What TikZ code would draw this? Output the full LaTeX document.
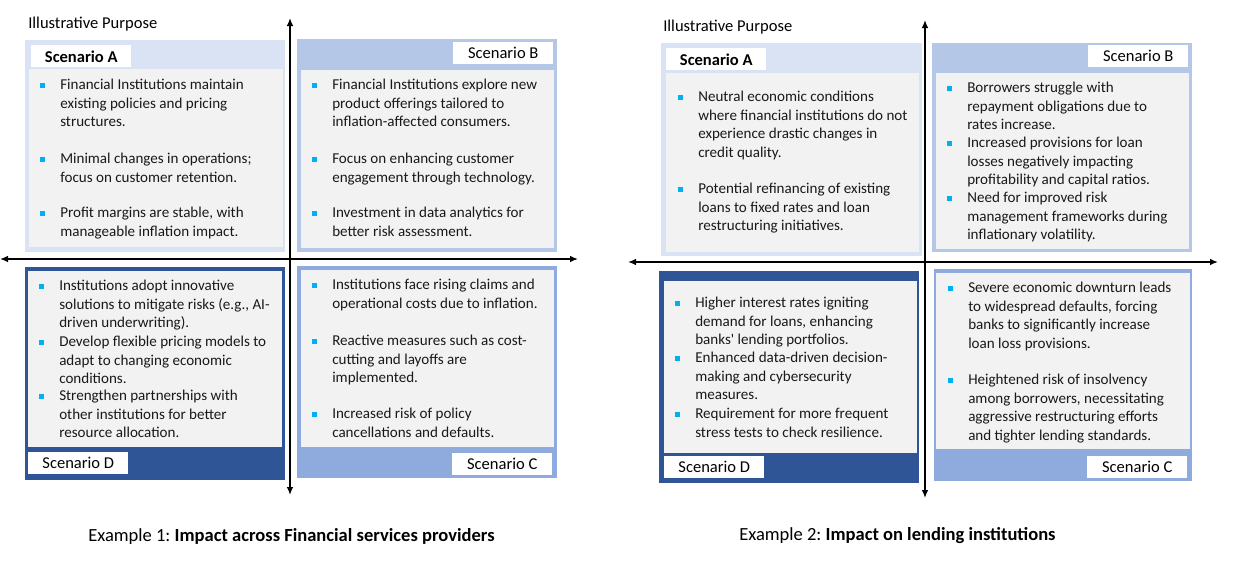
\documentclass[tikz,border=0pt]{standalone}
\usepackage{fontspec}
\setmainfont{Carlito}
\usepackage{tikz}
\usetikzlibrary{arrows.meta}
\frenchspacing

\definecolor{paleblue}{HTML}{DAE3F3}
\definecolor{midblue}{HTML}{B4C7E7}
\definecolor{softblue}{HTML}{8FAADC}
\definecolor{deepblue}{HTML}{2F5597}
\definecolor{panelgrey}{HTML}{F2F2F2}
\definecolor{bulletcyan}{HTML}{00B0F0}

% one bullet point: name, text x, y of first line, lines
\newcommand{\bitem}[4]{%
  \fill[bulletcyan] (#2-20,#3-2.5) rectangle ++(5,5);
  \node[itemtext] (#1) at (#2,#3-8.5) {\strut #4};
}

\begin{document}
\begin{tikzpicture}[x=0.75pt,y=-0.75pt,
    itemtext/.style={anchor=north west,inner sep=0pt,align=left,
      font=\fontsize{11.3}{13.9}\selectfont,text=black!90},
    scenlabel/.style={anchor=north west,fill=white,inner sep=0pt,
      minimum width=75pt,minimum height=16.5pt,font=\fontsize{12.4}{14}\selectfont},
    axis/.style={line width=1.1pt,{Latex[length=6pt,width=5pt]}-{Latex[length=6pt,width=5pt]}},
    note/.style={anchor=west,inner sep=0pt,font=\fontsize{12.4}{14}\selectfont},
    caption/.style={anchor=west,inner sep=0pt,font=\fontsize{13.9}{16}\selectfont}]
  \fill[white] (0,0) rectangle (1243,575);
  \useasboundingbox (0,0) rectangle (1243,575);

  % LEFT: financial services providers
  \begin{scope}
    \node[note] (purpose1) at (28,24) {Illustrative Purpose};
    % scenario A
    \fill[paleblue] (25,40) rectangle (285,252);
    \fill[panelgrey] (29,69) rectangle (283,247);
    \node[scenlabel,font=\fontsize{12.4}{14}\selectfont\bfseries] (scA1) at (31,45) {Scenario A};
    \bitem{a11}{60}{85}{Financial Institutions maintain\\existing policies and pricing\\structures.}
    \bitem{a12}{60}{159}{Minimal changes in operations;\\focus on customer retention.}
    \bitem{a13}{60}{213}{Profit margins are stable, with\\manageable inflation impact.}
    % scenario B
    \fill[midblue] (297,39) rectangle (557,252);
    \fill[panelgrey] (301,70) rectangle (554,248);
    \node[scenlabel] (scB1) at (453,42) {Scenario B};
    \bitem{b11}{332}{85}{Financial Institutions explore new\\product offerings tailored to\\inflation-affected consumers.}
    \bitem{b12}{332}{159}{Focus on enhancing customer\\engagement through technology.}
    \bitem{b13}{332}{213}{Investment in data analytics for\\better risk assessment.}
    % scenario D
    \fill[deepblue] (25,267) rectangle (285,480);
    \fill[panelgrey] (28,271) rectangle (282,447);
    \node[scenlabel] (scD1) at (28,452) {Scenario D};
    \bitem{d11}{59}{286}{Institutions adopt innovative\\solutions to mitigate risks (e.g., AI-\\driven underwriting).}
    \bitem{d12}{59}{342}{Develop flexible pricing models to\\adapt to changing economic\\conditions.}
    \bitem{d13}{59}{396}{Strengthen partnerships with\\other institutions for better\\resource allocation.}
    % scenario C
    \fill[softblue] (297,266) rectangle (557,478);
    \fill[panelgrey] (301,270) rectangle (554,447);
    \node[scenlabel] (scC1) at (452,453) {Scenario C};
    \bitem{c11}{332}{285}{Institutions face rising claims and\\operational costs due to inflation.}
    \bitem{c12}{332}{341}{Reactive measures such as cost-\\cutting and layoffs are\\implemented.}
    \bitem{c13}{332}{414}{Increased risk of policy\\cancellations and defaults.}
    % axes
    \coordinate (top1) at (290,18);
    \coordinate (bot1) at (290,495);
    \coordinate (lft1) at (0,259);
    \coordinate (rgt1) at (578,259);
    \draw[axis] (bot1) -- (top1);
    \draw[axis] (lft1) -- (rgt1);
    \node[caption] (cap1) at (88,536) {Example 1: \textbf{Impact across Financial services providers}};
  \end{scope}

  % RIGHT: lending institutions
  \begin{scope}
    \node[note] (purpose2) at (663,27) {Illustrative Purpose};
    % scenario A
    \fill[paleblue] (661,43) rectangle (922,256);
    \fill[panelgrey] (666,73) rectangle (919,252);
    \node[scenlabel,font=\fontsize{12.4}{14}\selectfont\bfseries] (scA2) at (666,48) {Scenario A};
    \bitem{a21}{698}{97}{Neutral economic conditions\\where financial institutions do not\\experience drastic changes in\\credit quality.}
    \bitem{a22}{698}{189}{Potential refinancing of existing\\loans to fixed rates and loan\\restructuring initiatives.}
    % scenario B
    \fill[midblue] (932,43) rectangle (1192,252);
    \fill[panelgrey] (936,73) rectangle (1189,249);
    \node[scenlabel] (scB2) at (1088,45) {Scenario B};
    \bitem{b21}{967}{88}{Borrowers struggle with\\repayment obligations due to\\rates increase.}
    \bitem{b22}{967}{143}{Increased provisions for loan\\losses negatively impacting\\profitability and capital ratios.}
    \bitem{b23}{967}{198}{Need for improved risk\\management frameworks during\\inflationary volatility.}
    % scenario D
    \fill[deepblue] (659,271) rectangle (919,483);
    \fill[panelgrey] (664,281) rectangle (917,453);
    \node[scenlabel] (scD2) at (664,456) {Scenario D};
    \bitem{d21}{695}{303}{Higher interest rates igniting\\demand for loans, enhancing\\banks\textquotesingle\ lending portfolios.}
    \bitem{d22}{695}{358}{Enhanced data-driven decision-\\making and cybersecurity\\measures.}
    \bitem{d23}{695}{414}{Requirement for more frequent\\stress tests to check resilience.}
    % scenario C
    \fill[softblue] (934,269) rectangle (1192,481);
    \fill[panelgrey] (936,273) rectangle (1190,449);
    \node[scenlabel] (scC2) at (1087,456) {Scenario C};
    \bitem{c21}{968}{288}{Severe economic downturn leads\\to widespread defaults, forcing\\banks to significantly increase\\loan loss provisions.}
    \bitem{c22}{968}{380}{Heightened risk of insolvency\\among borrowers, necessitating\\aggressive restructuring efforts\\and tighter lending standards.}
    % axes
    \coordinate (top2) at (925,20);
    \coordinate (bot2) at (925,498);
    \coordinate (lft2) at (628,262);
    \coordinate (rgt2) at (1218,262);
    \draw[axis] (bot2) -- (top2);
    \draw[axis] (lft2) -- (rgt2);
    \node[caption] (cap2) at (739,536) {Example 2: \textbf{Impact on lending institutions}};
  \end{scope}
\end{tikzpicture}
\end{document}
